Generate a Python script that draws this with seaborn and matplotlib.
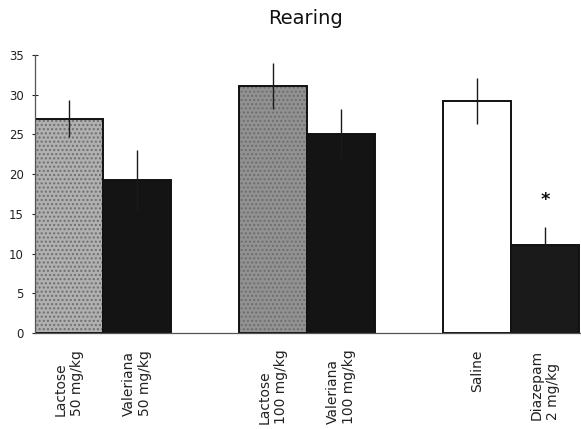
import numpy as np
import pandas as pd
import matplotlib
matplotlib.use("Agg")
import matplotlib.pyplot as plt
import seaborn as sns

# ---- data ----
categories = ["Lactose\n50 mg/kg", "Valeriana\n50 mg/kg",
              "Lactose\n100 mg/kg", "Valeriana\n100 mg/kg",
              "Saline", "Diazepam\n2 mg/kg"]
groups = [0, 0, 1, 1, 2, 2]
values = [27.0, 19.2, 31.1, 25.1, 29.2, 11.1]
errors = [2.3, 3.8, 2.9, 3.1, 2.9, 2.2]
significant = [False, False, False, False, False, True]
title = "Rearing"
yticks = [0, 5, 10, 15, 20, 25, 30, 35]

# ---- layout helpers (positions derived from group structure) ----
pos = []
for i, g in enumerate(groups):
    within = sum(1 for j in range(i) if groups[j] == g)
    pos.append(g * 3 + within)

fills = ["#b0b0b0", "#141414", "#929292", "#141414", "#ffffff", "#1a1a1a"]

df = pd.DataFrame({"pos": pos, "value": values, "cat": categories})

sns.set_style("white")
plt.rcParams["font.family"] = ["DejaVu Sans"]
plt.rcParams["hatch.color"] = "#6a6a6a"

fig = plt.figure(figsize=(5.81, 4.29), dpi=100)
ax = fig.add_axes([35 / 581, 1 - 333 / 429, 1 - 35 / 581, (333 - 55) / 429])

sns.barplot(data=df, x="pos", y="value", hue="cat", palette=dict(zip(categories, fills)),
            native_scale=True, dodge=False, width=1.0, errorbar=None, legend=False,
            edgecolor="#111111", linewidth=1.4, ax=ax)

# grainy texture on lactose bars
for patch, c in zip(ax.patches, categories):
    if c.startswith("Lactose"):
        patch.set_hatch("....")
        patch._hatch_color = matplotlib.colors.to_rgba("#6e6e6e")

ax.errorbar(pos, values, yerr=errors, fmt="none", ecolor="#1a1a1a", elinewidth=1.0, capsize=0)

for p, v, e, s in zip(pos, values, errors, significant):
    if s:
        ax.text(p, v + e + 3.5, "*", ha="center", va="center", fontsize=13, fontweight="bold", color="#111111")

ax.set_xlim(-0.5, 7.53)
ax.set_ylim(0, 35)
ax.set_yticks(yticks)
ax.set_yticklabels([str(t) for t in yticks], fontsize=8.5, color="#222222")
ax.set_xticks(pos)
ax.set_xticklabels(categories, rotation=90, va="top", ha="center", ma="left", fontsize=10, color="#222222")
ax.tick_params(axis="x", length=0, pad=12)
ax.tick_params(axis="y", length=4, direction="inout", width=0.8, pad=6, left=True)
ax.set_xlabel("")
ax.set_ylabel("")
for side in ["top", "right"]:
    ax.spines[side].set_visible(False)
for side in ["left", "bottom"]:
    ax.spines[side].set_color("#555555")
    ax.spines[side].set_linewidth(0.9)

fig.text(305 / 581, 1 - 18 / 429, title, ha="center", va="center", fontsize=14, color="#111111")

fig.savefig("out.png", dpi=100)
